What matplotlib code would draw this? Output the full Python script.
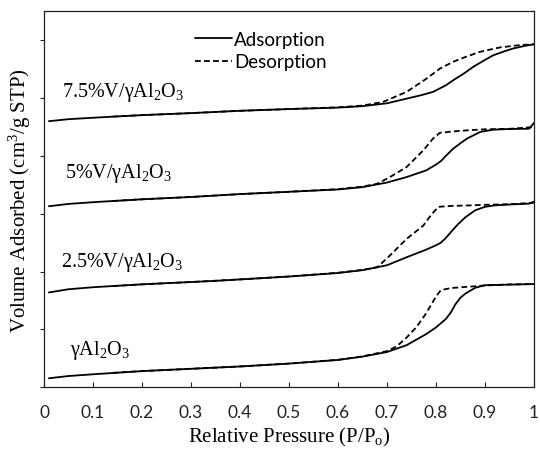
import matplotlib
matplotlib.use("Agg")
import matplotlib.pyplot as plt

plt.rcParams["mathtext.fontset"] = "custom"
plt.rcParams["mathtext.rm"] = "Liberation Serif"
plt.rcParams["mathtext.it"] = "Liberation Serif"
plt.rcParams["mathtext.bf"] = "Liberation Serif:bold"

# N2 isotherms: relative pressure vs. volume adsorbed (offset per sample)
samples = ["γAl$_2$O$_3$", "2.5%V/γAl$_2$O$_3$", "5%V/γAl$_2$O$_3$", "7.5%V/γAl$_2$O$_3$"]

# gamma-Al2O3
p_ads_0 = [0.01, 0.05, 0.1, 0.2, 0.3, 0.4, 0.5, 0.6, 0.65, 0.7, 0.74, 0.78, 0.8, 0.82,
           0.83, 0.84, 0.85, 0.86, 0.88, 0.9, 0.95, 0.99, 1.0]
v_ads_0 = [15.6, 19.5, 22.5, 28, 32, 36, 41, 47.3, 53, 61, 72.8, 92, 103.5, 118,
           129, 144, 155, 162, 172, 176.5, 177.5, 178.3, 178.5]
p_des_0 = [0.14, 0.2, 0.3, 0.4, 0.5, 0.6, 0.65, 0.7, 0.72, 0.74, 0.76, 0.78, 0.8, 0.81,
           0.83, 0.86, 0.9, 0.95, 1.0]
v_des_0 = [25, 28, 32, 36, 41, 47.5, 53.5, 62.5, 71, 86, 104, 128, 157, 168,
           171.5, 173.5, 176, 177.8, 178.5]

# 2.5%V/gamma-Al2O3
p_ads_1 = [0.01, 0.05, 0.1, 0.2, 0.3, 0.35, 0.4, 0.5, 0.6, 0.65, 0.7, 0.74, 0.78, 0.8,
           0.81, 0.82, 0.83, 0.845, 0.86, 0.88, 0.9, 0.92, 0.95, 0.99, 1.0]
v_ads_1 = [164, 169.5, 173, 178, 182, 184, 186.5, 191.5, 197.6, 202.5, 211, 224.8, 238, 245.5,
           250, 258, 268, 282, 294, 306, 312, 314.5, 316, 317.5, 321]
p_des_1 = [0.14, 0.2, 0.3, 0.4, 0.5, 0.6, 0.65, 0.68, 0.7, 0.74, 0.774, 0.79, 0.805,
           0.83, 0.87, 0.9, 0.95, 1.0]
v_des_1 = [175, 178, 182, 186.5, 191.5, 198, 203, 207.5, 223, 256.5, 279.5, 298, 312,
           313.5, 314.5, 315.5, 316.5, 319]

# 5%V/gamma-Al2O3
p_ads_2 = [0.01, 0.05, 0.1, 0.2, 0.3, 0.35, 0.4, 0.5, 0.6, 0.65, 0.7, 0.74, 0.78, 0.8,
           0.81, 0.82, 0.835, 0.85, 0.863, 0.89, 0.917, 0.95, 0.99, 1.0]
v_ads_2 = [313, 317, 320, 325, 329, 331.5, 334, 338, 342, 346, 354, 363.4, 375, 385,
           391, 400, 412.5, 422, 429.8, 441.4, 445.4, 446.5, 447, 457]
p_des_2 = [0.14, 0.2, 0.3, 0.4, 0.5, 0.6, 0.65, 0.68, 0.706, 0.74, 0.774, 0.794, 0.808,
           0.85, 0.9, 0.95, 1.0]
v_des_2 = [322, 325, 329, 334, 338, 342.5, 347, 351.8, 363.4, 380.8, 409.5, 430, 440,
           443.5, 446, 446.8, 450]

# 7.5%V/gamma-Al2O3
p_ads_3 = [0.01, 0.05, 0.1, 0.2, 0.3, 0.35, 0.4, 0.5, 0.6, 0.65, 0.7, 0.74, 0.77, 0.794,
           0.82, 0.835, 0.856, 0.876, 0.9, 0.917, 0.94, 0.958, 0.98, 1.0]
v_ads_3 = [460, 463.5, 466, 470.5, 474, 476, 478, 481, 483.5, 486, 491, 499, 505, 510.7,
           522, 530.8, 542, 554, 566, 574, 581, 585.8, 590, 593]
p_des_3 = [0.14, 0.2, 0.3, 0.4, 0.5, 0.6, 0.65, 0.692, 0.74, 0.781, 0.808, 0.835, 0.86,
           0.89, 0.93, 0.95, 0.97, 1.0]
v_des_3 = [468, 470.5, 474, 478, 481, 484, 487, 493.4, 510.7, 533.8, 551, 562.7, 571,
           580, 587.5, 589.5, 591.5, 593]

x_ticks = [0, 0.1, 0.2, 0.3, 0.4, 0.5, 0.6, 0.7, 0.8, 0.9, 1]
x_tick_labels = ["0", "0.1", "0.2", "0.3", "0.4", "0.5", "0.6", "0.7", "0.8", "0.9", "1"]

ads = [(p_ads_0, v_ads_0), (p_ads_1, v_ads_1), (p_ads_2, v_ads_2), (p_ads_3, v_ads_3)]
des = [(p_des_0, v_des_0), (p_des_1, v_des_1), (p_des_2, v_des_2), (p_des_3, v_des_3)]

fig = plt.figure(figsize=(5.4, 4.52), dpi=100)
ax = fig.add_axes([44 / 540, 1 - 388.3 / 452, 490 / 540, 376 / 452])

lw = 1.3
for i, ((pa, va), (pd, vd)) in enumerate(zip(ads, des)):
    ax.plot(pa, va, color="black", lw=lw, solid_capstyle="round",
            label="Adsorption" if i == 0 else None)
    ax.plot(pd, vd, color="black", lw=lw, dashes=(3.2, 1.8),
            label="Desorption" if i == 0 else None)

ax.set_xlim(0, 1)
ax.set_ylim(0, 650)
ax.set_xticks(x_ticks)
ax.set_xticklabels(x_tick_labels)
ax.set_yticks(range(0, 700, 100))
ax.set_yticklabels([])
ax.tick_params(axis="x", direction="in", length=3.5, width=0.8, pad=12,
               labelsize=12.5, colors="#222222")
ax.tick_params(axis="y", direction="out", length=3, width=0.8, colors="#222222")
for lab in ax.get_xticklabels():
    lab.set_fontfamily("Lato")
for sp in ax.spines.values():
    sp.set_color("#222222")
    sp.set_linewidth(0.9)

# sample labels
label_pos = [(0.053, 0.0886), (0.034, 0.323), (0.043, 0.5585), (0.0367, 0.774)]
for name, (xl, yl) in zip(samples, label_pos):
    ax.text(xl, yl, name, transform=ax.transAxes, fontsize=14.5,
            fontfamily="Liberation Serif", va="baseline", ha="left")

ax.set_xlabel("Relative Pressure (P/P$_\\mathrm{o}$)", fontsize=15,
              fontfamily="Liberation Serif", va="center")
ax.xaxis.set_label_coords(0.5, -0.132)
ax.set_ylabel("Volume Adsorbed (cm$^3$/g STP)", fontsize=15,
              fontfamily="Liberation Serif", va="center")
ax.yaxis.set_label_coords(-0.049, 0.5)

leg = ax.legend(loc="center left", bbox_to_anchor=(0.308, 0.896), frameon=False,
                borderpad=0, borderaxespad=0, handlelength=2.0, handletextpad=0.1,
                labelspacing=0.3, prop={"family": "Lato", "size": 13.5})

fig.savefig("out.png", dpi=100, facecolor="white")
